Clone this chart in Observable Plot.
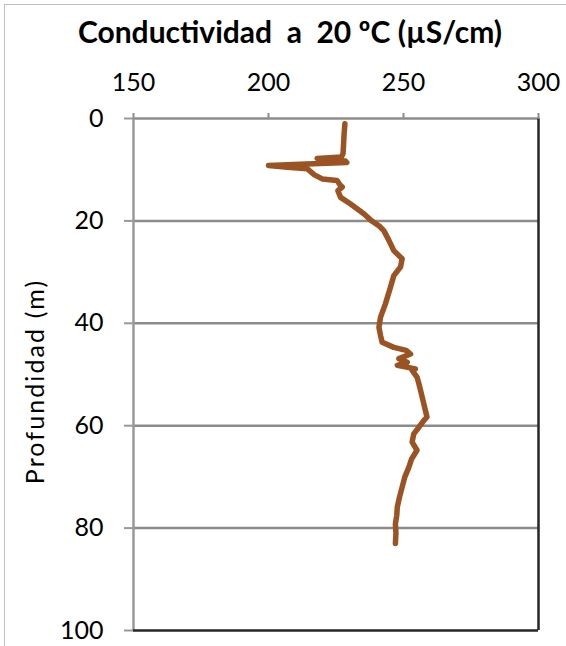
<!DOCTYPE html>
<html>
<head>
<meta charset="utf-8">
<script src="https://cdn.jsdelivr.net/npm/d3@7"></script>
<script src="https://cdn.jsdelivr.net/npm/@observablehq/plot@0.6"></script>
<style>
  html, body { margin: 0; padding: 0; background: #fff; overflow: hidden; }
  #wrap { position: relative; width: 566px; height: 646px; overflow: hidden; font-family: Lato, "Open Sans", sans-serif; }
  #frame { position: absolute; left: 4px; top: 4px; width: 620px; height: 700px; border: 1px solid #bfbfbf; }
  #title { position: absolute; left: 0; top: 13px; width: 580px; text-align: center; font-weight: bold; font-size: 30px; color: #000; white-space: nowrap; }
  #chart { position: absolute; left: 0; top: 0; }
</style>
</head>
<body>
<div id="wrap">
  <div id="frame"></div>
  <div id="chart"></div>
  <div id="title">Conductividad&nbsp; a&nbsp; 20 ºC (µS/cm)</div>
</div>
<script>
const depth = [1.0, 3, 5, 6.9, 7.5, 7.8, 8.0, 8.3, 8.6, 8.9, 9.2, 9.5, 9.8, 11.0, 11.8, 12.1, 13.0, 13.4, 14.1, 15.4, 16.7, 18.6, 19.9, 21.0, 21.9, 23.8, 25.8, 27.4, 29.0, 30.7, 32.9, 36.2, 38.8, 40.8, 42.4, 43.7, 44.7, 45.3, 46.0, 46.9, 47.6, 48.2, 48.9, 49.2, 50.5, 51.8, 53.5, 55.7, 58.3, 59.0, 60.3, 61.6, 63.2, 64.8, 66.5, 68.1, 70.0, 72.0, 74.0, 75.9, 77.5, 79.2, 81.0, 83.0];
const conductivity = [228.3, 228.0, 227.8, 227.6, 227.0, 218, 222, 228.5, 229, 214, 200.0, 207, 214.3, 217, 219.9, 225.4, 226.5, 227.3, 225.7, 226.7, 230.4, 235.3, 238, 241, 242.7, 244.6, 246.4, 249.5, 248.9, 246.4, 245.2, 243.3, 241.5, 240.9, 241.5, 242.1, 246.4, 251, 252.6, 248.3, 251.4, 247.7, 254.4, 253.2, 255, 255.7, 256.5, 257.5, 258.7, 257.5, 255.7, 253.8, 253.2, 255.0, 253, 252.0, 250.5, 249.5, 248.5, 247.7, 247.5, 247.0, 247.2, 247.0];
const xTicks = [150, 200, 250, 300];
const yTicks = [0, 20, 40, 60, 80, 100];
const gridDepths = [20, 40, 60, 80];
const yLabel = "Profundidad (m)";

const data = depth.map((d, i) => ({depth: d, value: conductivity[i]}));

const chart = Plot.plot({
  width: 566,
  height: 646,
  marginLeft: 133,
  marginRight: 28,
  marginTop: 118,
  marginBottom: 16,
  style: {fontFamily: "Lato, 'Open Sans', sans-serif", fontSize: "25px", color: "#000", background: "transparent"},
  x: {domain: [150, 300], axis: null},
  y: {domain: [0, 100], reverse: true, axis: null},
  marks: [
    Plot.ruleY(gridDepths, {stroke: "#8c8c8c", strokeWidth: 2.5}),
    Plot.ruleY([0], {stroke: "#8c8c8c", strokeWidth: 2.5}),
    Plot.ruleX([150], {stroke: "#999999", strokeWidth: 2.5}),
    Plot.ruleY([100], {stroke: "#262626", strokeWidth: 2.5}),
    Plot.ruleX([300], {stroke: "#262626", strokeWidth: 2.5}),
    Plot.axisX(xTicks, {anchor: "top", tickSize: 6, tickPadding: 22, stroke: "#8c8c8c", strokeWidth: 2, fill: "#000", fontSize: 25, label: null}),
    Plot.axisY(yTicks, {anchor: "left", tickSize: 9, tickPadding: 21, stroke: "#999999", strokeWidth: 2, fill: "#000", fontSize: 25, label: null}),
    Plot.line(data, {x: "value", y: "depth", stroke: "#9c5324", strokeWidth: 5.5, strokeLinejoin: "round", strokeLinecap: "round", curve: "linear"}),
    Plot.text([yLabel], {frameAnchor: "left", textAnchor: "middle", dx: -98, dy: 7, rotate: -90, fontSize: 25, fill: "#000"})
  ]
});
d3.select(chart).selectAll("text").filter(function() { return this.textContent === yLabel; })
  .style("letter-spacing", "2.1px");
document.getElementById("chart").appendChild(chart);
</script>
</body>
</html>
